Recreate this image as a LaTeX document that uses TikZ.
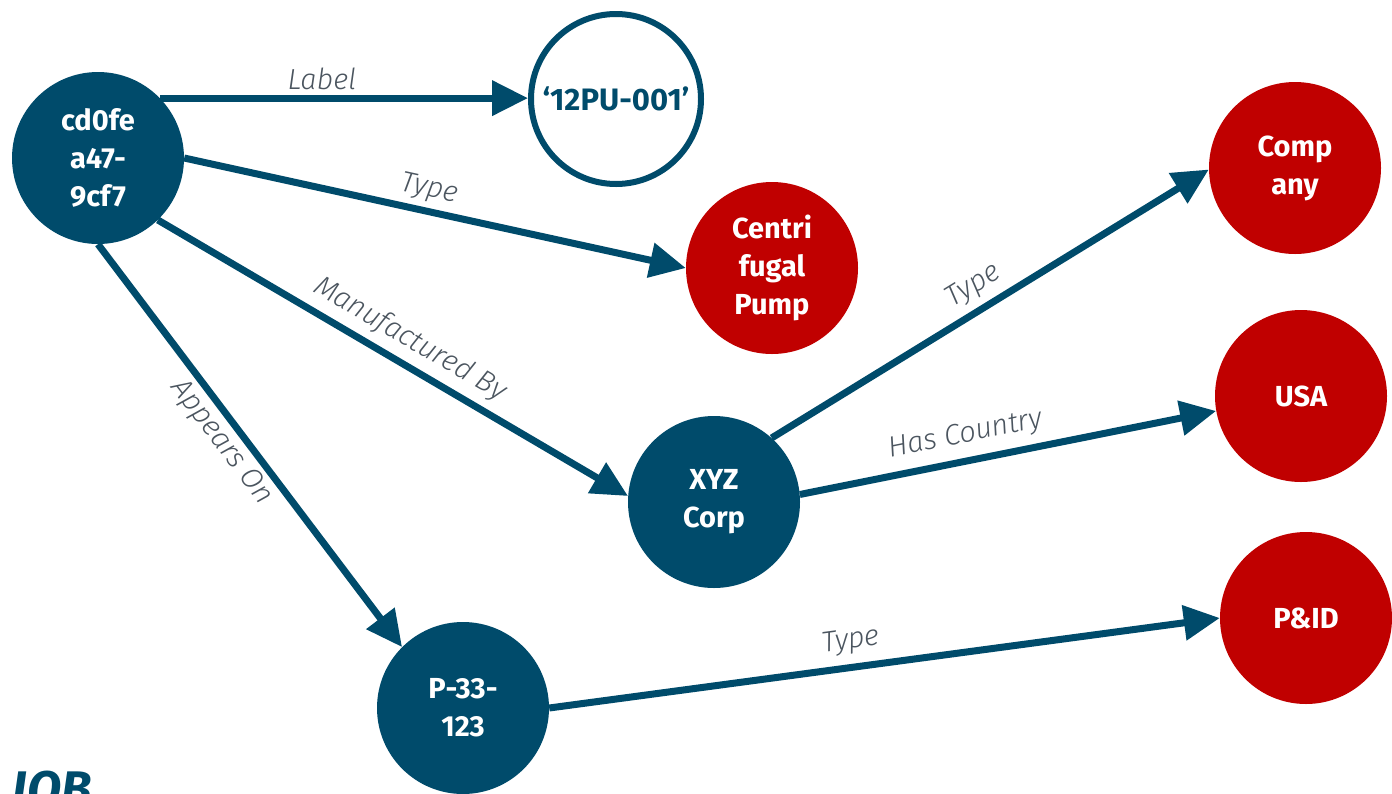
\documentclass[tikz,border=0pt]{standalone}
\usepackage{fontspec}
\setmainfont{Fira Sans}
\newfontfamily\labfont{Fira Sans Light}
\usetikzlibrary{arrows.meta}
\definecolor{nblue}{RGB}{0,75,107}
\definecolor{nred}{RGB}{192,0,0}
\definecolor{lgray}{RGB}{75,85,95}
\begin{document}
\begin{tikzpicture}[x=1pt,y=-1pt,
  ent/.style={circle, fill=nblue, text=white, minimum size=172pt, inner sep=0pt, align=center,
    font=\fontsize{29}{38}\selectfont\bfseries},
  cls/.style={ent, fill=nred},
  lit/.style={circle, draw=nblue, line width=6pt, fill=white, text=nblue, minimum size=170pt,
    inner sep=0pt, font=\fontsize{31}{38}\selectfont\bfseries},
  rel/.style={draw=nblue, line width=7pt, -{Triangle[length=36pt,width=34pt]}},
  lab/.style={font=\labfont\itshape\fontsize{29}{32}\selectfont, text=lgray, sloped}
]
\useasboundingbox (0,0) rectangle (1392,793);
\node[ent] (cd) at (98,158) {cd0fe\\a47-\\9cf7};
\node[lit] (pu) at (616,99) {‘12PU-001’};
\node[cls] (cp) at (772,268) {Centri\\fugal\\Pump};
\node[ent] (xyz) at (714,502) {XYZ\\Corp};
\node[ent] (pid33) at (463,708) {P-33-\\123};
\node[cls] (co) at (1295,168) {Comp\\any};
\node[cls] (usa) at (1301,396) {USA};
\node[cls] (pid) at (1306,618) {P\&ID};

\draw[rel] (cd.44) -- (cd.44 -| pu.west) node[lab, pos=0.44, above=1pt] {Label};
\draw[rel] (cd.east) -- (cp.west) node[lab, pos=0.48, above=2pt] {Type};
\draw[rel] (cd.-46) -- (xyz.176) node[lab, pos=0.51, above=4pt] {Manufactured By};
\draw[rel] (cd.south) -- (pid33.135) node[lab, pos=0.46, below=1pt] {Appears On};
\draw[rel] (xyz.48) -- (co.181) node[lab, pos=0.49, above=4pt] {Type};
\draw[rel] (xyz.5) -- (usa.190) node[lab, pos=0.41, above=6pt] {Has Country};
\draw[rel] (pid33.east) -- (pid.west) node[lab, pos=0.455, above=6pt] {Type};

\node[anchor=base east, font=\fontsize{50}{50}\selectfont\bfseries\itshape, text=nblue, inner sep=0pt] (logo) at (92,806) {IOB};
\end{tikzpicture}
\end{document}
